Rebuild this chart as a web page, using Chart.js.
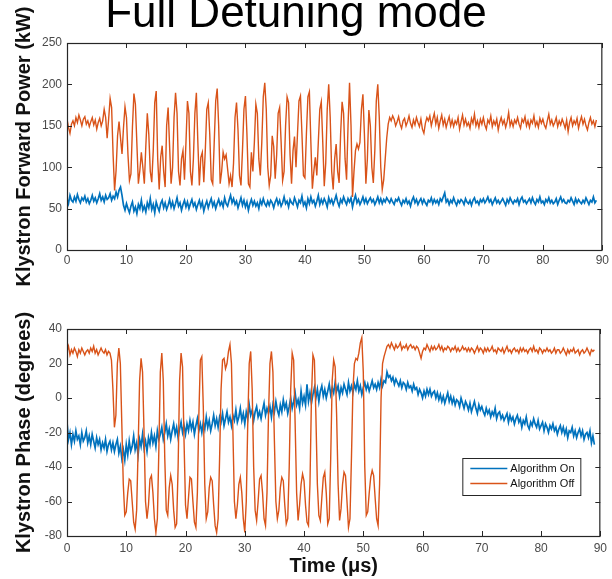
<!DOCTYPE html>
<html><head><meta charset="utf-8">
<script src="https://cdn.jsdelivr.net/npm/chart.js@4.4.1/dist/chart.umd.min.js"></script>
<style>
html,body{margin:0;padding:0;background:#fff;}
#wrap{position:relative;width:612px;height:579px;overflow:hidden;background:#fff;}
canvas{position:absolute;left:0;}
#c1{top:0;} #c2{top:290px;}
</style></head><body>
<div id="wrap"><canvas id="c1" width="612" height="290"></canvas><canvas id="c2" width="612" height="289"></canvas></div>
<script>
const TITLE = 'Full Detuning mode';
const SERIES_ON = 'Algorithm On';
const SERIES_OFF = 'Algorithm Off';
const Y_TITLE_POWER = 'Klystron Forward Power (kW)';
const Y_TITLE_PHASE = 'Klystron Phase (degrees)';
const X_TITLE = 'Time (\u03bcs)';
const T_START = 0, T_STEP = 0.25;   // sample spacing of the traces (µs)
const X_TICKS = [0,10,20,30,40,50,60,70,80,90];
const POWER_TICKS = [0,50,100,150,200,250];
const PHASE_TICKS = [-80,-60,-40,-20,0,20,40];

const powerOff = [
158,148,141,152, 156,150,160,154, 163,157,150,158, 161,152,156,149, 155,160,151,157, 146,154,159,150,
156,170,160,135, 158,183,172,115, 72,96,138,155, 135,116,148,173, 160,115,84,92,
148,189,176,128, 80,96,118,100, 80,125,165,140, 95,82,120,178, 192,110,73,112,
126,95,76,150, 172,125,80,100, 160,190,165,95, 78,110,120,85, 130,180,165,95,
78,110,165,190, 130,78,112,118, 82,120,170,178, 140,85,80,130, 180,195,150,80,
95,118,110,115, 98,80,90,76, 105,160,178,145, 90,78,120,170, 186,140,80,76,
118,95,130,176, 165,110,90,130, 185,202,170,100, 78,90,138,125, 86,115,165,172,
130,84,95,150, 185,178,115,80, 120,137,100,140, 180,186,140,90, 87,140,185,191,
130,74,95,112, 90,130,170,179, 130,77,105,170, 200,160,95,73, 110,128,95,81,
140,179,165,110, 85,150,202,150, 64,95,120,128, 122,130,170,188, 140,80,110,169,
150,100,81,120, 180,200,160,100, 73,85,110,135, 152,160,156,162,
158,150,155,161, 152,147,156,159, 150,155,162,153, 148,157,151,160, 154,149,158,146,
141,153,160,156, 162,150,158,165, 152,160,147,156, 163,151,158,148, 155,161,150,157,
149,156,152,160, 146,155,163,151, 158,150,154,147, 159,153,164,150, 156,148,158,152,
160,151,146,157, 153,162,149,156, 151,158,145,154, 160,152,157,148, 155,166,150,156,
149,157,153,160, 152,147,158,154, 161,150,156,148, 157,153,162,150, 155,148,159,153,
158,151,147,156, 164,152,157,150, 154,160,149,156, 151,158,153,147, 157,143,154,160,
150,156,152,159, 147,155,161,152, 158,150,145,154, 160,152,156,149, 157
];

const powerOn = [
62,56,66,60, 58,64,59,67, 61,57,63,60, 65,58,62,56, 60,66,59,63,
57,62,68,60, 64,58,66,61, 63,68,60,65, 62,70,64,72, 76,66,54,48,
56,50,45,53, 58,47,52,44, 55,50,60,48, 53,46,57,51, 62,49,55,45,
58,52,47,56, 60,51,57,49, 54,61,52,58, 50,56,63,53, 57,48,55,60,
52,58,50,56, 61,53,57,49, 55,60,52,58, 47,54,59,51, 57,62,53,58,
50,56,61,54, 58,52,63,56, 53,60,66,57, 62,55,59,51, 57,63,54,60,
52,58,48,56, 61,54,59,53, 57,50,60,55, 62,56,53,59, 54,60,57,51,
58,62,55,60, 53,57,64,56, 59,52,61,57, 55,63,58,52, 60,57,65,54,
58,51,62,56, 64,57,60,53, 59,66,55,61, 56,62,58,52, 63,57,61,55,
60,66,58,53, 61,57,64,59, 55,62,58,63, 52,60,66,57, 61,55,59,64,
57,62,56,60, 63,58,61,55, 59,64,57,62, 56,61,58,63, 60,57,62,58,
55,61,59,63, 58,54,60,57, 62,56,59,53, 60,64,57,61, 55,59,62,56,
61,57,54,60, 58,63,56,61, 57,60,55,62, 59,64,69,58, 61,55,60,57,
63,58,54,60, 57,61,59,55, 62,58,56,60, 54,60,63,57, 59,55,61,58,
62,57,60,64, 58,61,55,59, 63,57,60,56, 59,62,58,54, 61,57,63,59,
56,60,58,62, 55,61,64,58, 60,56,59,62, 57,63,58,55, 61,58,64,57,
59,55,61,58, 63,57,60,56, 58,62,55,60, 64,58,61,57, 56,60,58,63,
59,55,62,57, 61,58,56,60, 57,63,59,55, 60,58,64,57, 60
];

const phaseOff = [
27,30,25,28, 26,29,27,24, 28,26,29,27, 25,27,28,26, 29,27,30,26,
28,25,27,29, 27,26,28,25, 27,26,22,5, -17,-10,20,29, 20,-15,-50,-68,
-66,-55,-47,-48, -60,-72,-76,-65, -30,10,23,15, -20,-60,-70,-62, -47,-45,-55,-70,
-78,-70,-30,15, 26,10,-35,-65, -68,-52,-45,-50, -65,-75,-73,-40, 10,26,18,-25,
-62,-70,-58,-46, -47,-60,-72,-75, -55,-10,22,24, -5,-50,-70,-66, -52,-46,-48,-62,
-74,-78,-70,-35, 5,22,23,17, 20,27,31,20, -20,-60,-70,-62, -50,-46,-55,-70,
-78,-60,-15,20, 27,5,-40,-65, -71,-60,-47,-45, -55,-70,-74,-55, -10,20,27,15,
-25,-60,-70,-65, -52,-46,-48,-62, -73,-70,-40,5, 26,22,-15,-55, -71,-62,-50,-44,
-48,-62,-72,-74, -50,0,25,22, -10,-50,-68,-71, -58,-46,-43,-55, -73,-70,-35,10,
22,18,-10,-50, -71,-64,-50,-43, -45,-60,-75,-70, -35,5,20,23, 22,26,32,35,
15,-40,-68,-66, -55,-46,-42,-45, -58,-70,-74,-50, 0,20,24,27, 30,31,29,32,
30,28,31,29, 30,32,28,30, 29,31,28,30, 31,29,30,28, 30,29,26,23,
27,29,28,31, 29,27,30,28, 30,28,29,31, 28,30,27,29, 28,30,29,27,
29,28,30,27, 29,27,28,30, 28,29,27,29, 27,29,28,26, 28,30,27,29,
28,26,29,27, 29,27,28,30, 27,28,26,29, 28,27,29,26, 28,30,27,28,
26,28,29,27, 28,26,29,27, 29,27,28,26, 28,29,27,30, 27,28,26,29,
28,26,28,27, 29,27,28,26, 27,29,26,28, 28,26,27,29, 27,25,28,26,
28,27,29,26, 27,28,25,27, 28,26,27,29, 27,25,28,27, 28
];

const phaseOn = [
-14,-24,-20,-27, -21,-25,-19,-24, -22,-27,-20,-25, -23,-19,-26,-22, -27,-21,-25,-29,
-23,-27,-24,-30, -26,-29,-24,-31, -27,-25,-30,-26, -31,-27,-24,-32, -28,-35,-30,-36,
-27,-33,-25,-31, -28,-22,-30,-26, -33,-24,-28,-21, -29,-25,-31,-23, -27,-20,-26,-22,
-28,-19,-24,-21, -17,-24,-20,-15, -22,-18,-24,-19, -15,-21,-17,-23, -18,-14,-20,-16,
-21,-15,-19,-13, -18,-14,-21,-16, -12,-19,-15,-20, -14,-18,-11,-17, -13,-19,-15,-10,
-16,-12,-17,-11, -14,-9,-16,-12, -8,-14,-11,-16, -10,-13,-7,-14, -11,-6,-13,-9,
-15,-8,-12,-4, -10,-7,-13,-8, -5,-11,-8,-12, -7,-3,-10,-6, -9,-5,-11,-4,
-8,-2,-7,-10, -4,-8,-1,-6, -3,-9,-5,0, -6,-2,3,-4, -1,-6,4,-3,
1,-4,8,-2, 3,-3,2,6, 0,5,-2,4, 7,1,5,0, 4,8,2,6,
3,9,4,7, 1,6,3,8, 5,2,9,4, 7,3,8,5, 10,4,7,2,
6,9,5,8, 4,7,10,6, 8,5,9,6, 11,7,10,9, 15,12,13,10,
12,8,11,9, 7,10,6,9, 8,5,9,6, 7,4,8,5, 6,2,5,3,
0,4,1,5, 2,5,1,3, 4,0,3,-1, 2,-2,1,-3, 0,3,-2,1,
-3,0,-4,-1, -2,-5,0,-3, -6,-2,-4,-7, -3,-8,-5,-2, -6,-9,-4,-7,
-5,-8,-10,-6, -9,-7,-11,-8, -10,-6,-12,-9, -8,-12,-10,-13, -11,-9,-14,-10,
-13,-11,-15,-12, -10,-14,-12,-17, -13,-15,-11,-16, -18,-14,-16,-12, -15,-17,-13,-18,
-16,-14,-19,-15, -17,-20,-16,-18, -15,-19,-17,-21, -18,-16,-20,-17, -21,-18,-23,-19,
-20,-17,-22,-19, -23,-20,-18,-22, -19,-24,-21,-20, -23,-19,-26,-22, -27
];

const BLUE = '#0072BD', ORANGE = '#D95319', AXIS = '#262626', TICK_COLOR = '#4a4a4a';
const FAMILY = '"Liberation Sans", Arial, Helvetica, sans-serif';

const pts = arr => arr.map((v, i) => ({x: T_START + i * T_STEP, y: v}));

const boxPlugin = {
  id: 'matlabBox',
  afterDraw(chart) {
    const {ctx, chartArea: {left, right, top, bottom}, scales: {x, y}} = chart;
    const TL = 5;
    ctx.save();
    ctx.strokeStyle = AXIS;
    ctx.lineWidth = 1;
    ctx.beginPath();
    x.ticks.forEach(t => {
      const px = Math.round(x.getPixelForValue(t.value)) + 0.5;
      ctx.moveTo(px, bottom); ctx.lineTo(px, bottom - TL);
      ctx.moveTo(px, top); ctx.lineTo(px, top + TL);
    });
    y.ticks.forEach(t => {
      const py = Math.round(y.getPixelForValue(t.value)) + 0.5;
      ctx.moveTo(left, py); ctx.lineTo(left + TL, py);
      ctx.moveTo(right, py); ctx.lineTo(right - TL, py);
    });
    ctx.stroke();
    ctx.lineWidth = 1.2;
    ctx.strokeRect(left + 0.5, top + 0.5, right - left - 1, bottom - top);
    ctx.restore();
  }
};

const titlePlugin = {
  id: 'figTitle',
  afterDraw(chart) {
    const ctx = chart.ctx;
    ctx.save();
    ctx.fillStyle = '#000';
    ctx.font = '44px ' + FAMILY;
    ctx.textAlign = 'center';
    ctx.textBaseline = 'alphabetic';
    ctx.fillText(TITLE, 296, 27);
    ctx.restore();
  }
};

const legendPlugin = {
  id: 'boxLegend',
  afterDraw(chart) {
    const {ctx, chartArea: {right, bottom}} = chart;
    const w = 118, h = 37;
    const x0 = right - 20 - w, y0 = bottom - 41 - h;
    ctx.save();
    ctx.fillStyle = '#fff';
    ctx.fillRect(x0, y0, w, h);
    ctx.strokeStyle = AXIS;
    ctx.lineWidth = 1;
    ctx.strokeRect(x0 + 0.5, y0 + 0.5, w, h);
    ctx.font = '11px ' + FAMILY;
    ctx.textAlign = 'left';
    ctx.textBaseline = 'middle';
    chart.data.datasets.forEach((ds, i) => {
      const ly = y0 + 10.5 + i * 15;
      ctx.strokeStyle = ds.borderColor;
      ctx.lineWidth = 1.3;
      ctx.beginPath();
      ctx.moveTo(x0 + 8, ly); ctx.lineTo(x0 + 45, ly);
      ctx.stroke();
      ctx.fillStyle = '#111';
      ctx.fillText(ds.label, x0 + 48, ly);
    });
    ctx.restore();
  }
};

function makeChart(id, o) {
  return new Chart(document.getElementById(id), {
    type: 'line',
    data: {datasets: [
      {label: SERIES_ON, data: pts(o.on), borderColor: BLUE, borderWidth: 1.7, pointRadius: 0, order: 1},
      {label: SERIES_OFF, data: pts(o.off), borderColor: ORANGE, borderWidth: 1.4, pointRadius: 0, order: 0}
    ]},
    options: {
      responsive: false, animation: false, devicePixelRatio: 1,
      layout: {padding: o.padding},
      elements: {line: {tension: 0}},
      plugins: {legend: {display: false}, tooltip: {enabled: false}, title: {display: false}},
      scales: {
        x: {
          type: 'linear', min: X_TICKS[0], max: X_TICKS[X_TICKS.length - 1],
          grid: {display: false, drawTicks: false}, border: {display: false},
          ticks: {color: TICK_COLOR, font: {family: FAMILY, size: 12}, padding: o.xPad, maxRotation: 0, autoSkip: false},
          afterBuildTicks: s => { s.ticks = X_TICKS.map(v => ({value: v})); },
          afterFit: s => { s.height = o.xHeight; },
          title: o.xTitle ? {display: true, text: o.xTitle, color: '#111',
            font: {family: FAMILY, size: 20, weight: 'bold'}, padding: {top: 0, bottom: 1}} : {display: false}
        },
        y: {
          type: 'linear', min: o.yTicks[0], max: o.yTicks[o.yTicks.length - 1],
          grid: {display: false, drawTicks: false}, border: {display: false},
          ticks: {color: TICK_COLOR, font: {family: FAMILY, size: 12}, padding: 5},
          afterBuildTicks: s => { s.ticks = o.yTicks.map(v => ({value: v})); },
          afterFit: s => { s.width = 67; },
          title: {display: true, text: o.yTitle, color: '#111',
            font: {family: FAMILY, size: 20, weight: 'bold'}, padding: {top: 12, bottom: 0}}
        }
      }
    },
    plugins: [boxPlugin].concat(o.extra)
  });
}

makeChart('c1', {on: powerOn, off: powerOff, yTicks: POWER_TICKS, yTitle: Y_TITLE_POWER,
  padding: {left: 0, right: 9, top: 43, bottom: 0}, xHeight: 40, xPad: 3, extra: [titlePlugin]});
makeChart('c2', {on: phaseOn, off: phaseOff, yTicks: PHASE_TICKS, yTitle: Y_TITLE_PHASE, xTitle: X_TITLE,
  padding: {left: 0, right: 9, top: 39, bottom: 0}, xHeight: 43, xPad: 5, extra: [legendPlugin]});
</script>
</body></html>
